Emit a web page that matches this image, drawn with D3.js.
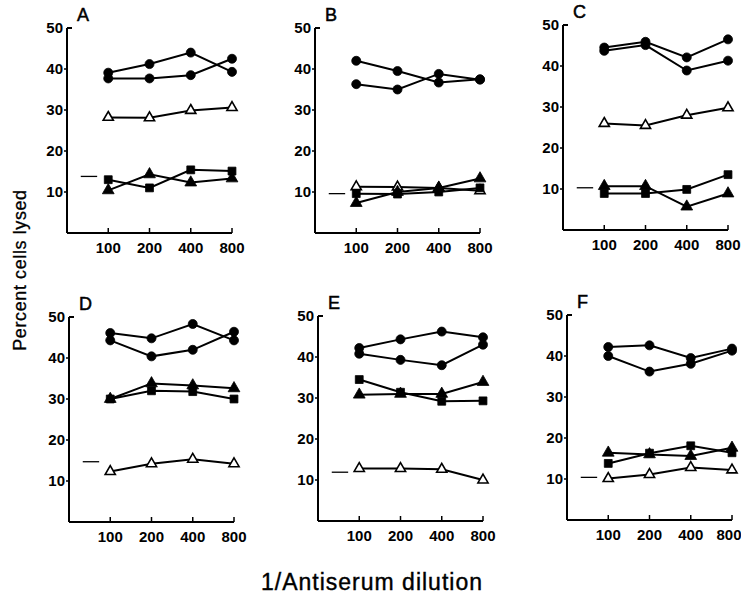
<!DOCTYPE html>
<html>
<head>
<meta charset="utf-8">
<script src="https://cdn.jsdelivr.net/npm/d3@7"></script>
<style>
  body { margin: 0; background: #fff; }
  svg { display: block; }
  text { font-family: "Liberation Sans", Arial, sans-serif; fill: #000; }
  .tick-label { font-family: "Liberation Sans Narrow", "Liberation Sans", Arial, sans-serif; font-size: 15px; font-weight: bold; }
</style>
</head>
<body>
<script>
// values, one entry per panel (A..F)
const panelNames = ["A", "B", "C", "D", "E", "F"]
const dilutions = [100, 200, 400, 800]
const yTicks = [10, 20, 30, 40, 50]

const circleA = [
  [39.1, 41.2, 44.0, 39.3],
  [42.0, 39.5, 36.7, 37.5],
  [44.5, 45.9, 42.1, 46.5],
  [46.1, 44.8, 48.3, 44.3],
  [42.2, 44.3, 46.2, 44.8],
  [42.2, 42.6, 39.5, 41.8]
]
const circleB = [
  [37.7, 37.7, 38.5, 42.5],
  [36.3, 35.0, 38.8, 37.4],
  [43.7, 45.1, 38.9, 41.3],
  [44.3, 40.4, 42.0, 46.4],
  [40.8, 39.3, 38.0, 43.0],
  [40.0, 36.2, 38.1, 41.3]
]
const openTriangle = [
  [28.2, 28.1, 29.9, 30.6],
  [11.3, 11.2, 11.0, 10.3],
  [26.0, 25.5, 28.0, 29.8],
  [12.3, 14.2, 15.3, 14.2],
  [12.8, 12.8, 12.6, 10.0],
  [10.1, 11.1, 12.8, 12.2]
]
const filledSquare = [
  [13.0, 11.0, 15.4, 15.1],
  [9.6, 9.5, 10.0, 11.0],
  [8.9, 8.9, 9.9, 13.5],
  [30.0, 32.0, 31.8, 30.0],
  [34.5, 31.4, 29.2, 29.3],
  [13.8, 16.3, 18.1, 16.4]
]
const filledTriangle = [
  [10.4, 14.3, 12.3, 13.3],
  [7.3, 10.0, 11.0, 13.3],
  [10.7, 10.7, 5.7, 8.9],
  [30.0, 33.8, 33.3, 32.6],
  [30.8, 31.0, 31.0, 33.9],
  [16.4, 16.0, 15.6, 17.6]
]
// short background dash to the left of each panel
const background = [13.8, 9.6, 10.3, 14.7, 11.9, 10.4]

const width = 741, height = 604

// panel placement (left edge of y axis, y of the 50 tick)
var panelLeft = [67, 315, 563, 69, 318, 567]
var panelTop = [28, 28, 25, 317, 316, 315]
var panelW = 165, panelH = 205

var svg = d3.select("body").append("svg")
  .attr("width", width)
  .attr("height", height)

var line = d3.line()

panelNames.forEach(function (name, p) {
  var g = svg.append("g")
    .attr("transform", "translate(" + panelLeft[p] + "," + panelTop[p] + ")")

  var x = d3.scaleLog().base(2).domain([50, 800]).range([0, panelW])
  var y = d3.scaleLinear().domain([0, 50]).range([panelH, 0])

  // axes
  g.append("path")
    .attr("d", "M0," + y(0) + "V" + y(50) + "M0," + y(0) + "H" + x(800))
    .attr("fill", "none").attr("stroke", "#000").attr("stroke-width", 2)

  g.append("line").attr("x1", 0).attr("x2", 5).attr("y1", y(50)).attr("y2", y(50))
    .attr("stroke", "#000").attr("stroke-width", 2)

  g.selectAll(".yt").data(yTicks.slice(0, 4)).enter().append("line")
    .attr("x1", -3).attr("x2", 0)
    .attr("y1", function (d) { return y(d) }).attr("y2", function (d) { return y(d) })
    .attr("stroke", "#000").attr("stroke-width", 1.5)

  g.selectAll(".xt").data(dilutions).enter().append("line")
    .attr("x1", function (d) { return x(d) }).attr("x2", function (d) { return x(d) })
    .attr("y1", y(0)).attr("y2", y(0) - 5)
    .attr("stroke", "#000").attr("stroke-width", 1.5)

  g.selectAll(".yl").data(yTicks).enter().append("text")
    .attr("class", "tick-label")
    .attr("x", -4).attr("y", function (d) { return y(d) })
    .attr("dy", "0.36em")
    .attr("text-anchor", "end")
    .text(function (d) { return d })

  // keep the last label inside the page (it sits right at the edge)
  var maxX = width - 1 - panelLeft[p]
  g.selectAll(".xl").data(dilutions).enter().append("text")
    .attr("class", "tick-label")
    .attr("x", function (d) { return Math.min(x(d), maxX - 11) }).attr("y", y(0) + 20)
    .attr("text-anchor", "middle")
    .text(function (d) { return d })

  g.append("text")
    .attr("x", 10).attr("y", y(50) - 7)
    .style("font-size", "18px")
    .attr("stroke", "#000").attr("stroke-width", 0.5)
    .text(name)

  // background dash
  g.append("line")
    .attr("x1", x(63)).attr("x2", x(83))
    .attr("y1", y(background[p])).attr("y2", y(background[p]))
    .attr("stroke", "#000").attr("stroke-width", 1.3)

  var series = [
    { vals: circleA[p], sym: d3.symbolCircle, size: 64, open: false },
    { vals: circleB[p], sym: d3.symbolCircle, size: 64, open: false },
    { vals: openTriangle[p], sym: d3.symbolTriangle, size: 45, open: true },
    { vals: filledSquare[p], sym: d3.symbolSquare, size: 62, open: false },
    { vals: filledTriangle[p], sym: d3.symbolTriangle, size: 60, open: false }
  ]

  series.forEach(function (s) {
    var pts = s.vals.map(function (v, i) { return [x(dilutions[i]), y(v)] })
    g.append("path")
      .attr("d", line(pts))
      .attr("fill", "none").attr("stroke", "#000").attr("stroke-width", 2)
  })

  series.forEach(function (s) {
    g.selectAll(null).data(s.vals).enter().append("path")
      .attr("transform", function (v, i) { return "translate(" + x(dilutions[i]) + "," + y(v) + ")" })
      .attr("d", d3.symbol().type(s.sym).size(s.size))
      .attr("fill", s.open ? "#fff" : "#000")
      .attr("stroke", "#000")
      .attr("stroke-width", s.open ? 1.6 : 0.8)
  })
})

// shared labels
svg.append("text")
  .attr("transform", "translate(26,270) rotate(-90)")
  .attr("text-anchor", "middle")
  .style("font-size", "18px").style("letter-spacing", "0.6px")
  .attr("stroke", "#000").attr("stroke-width", 0.3)
  .text("Percent cells lysed")

svg.append("text")
  .attr("x", 372).attr("y", 590)
  .attr("text-anchor", "middle")
  .style("font-size", "23px").style("letter-spacing", "1px")
  .attr("stroke", "#000").attr("stroke-width", 0.4)
  .text("1/Antiserum dilution")
</script>
</body>
</html>
